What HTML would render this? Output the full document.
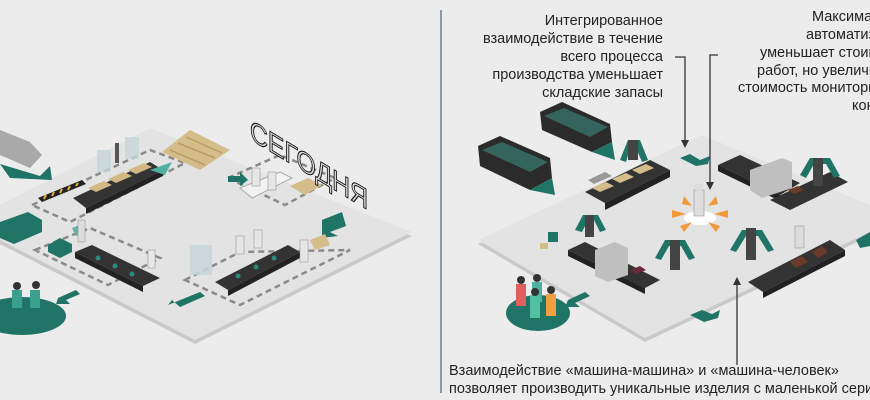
<!DOCTYPE html>
<html><head><meta charset="utf-8"><style>
html,body{margin:0;padding:0;background:#ececec;}
svg{display:block}
text{font-family:"Liberation Sans",sans-serif;}
</style></head><body>
<svg width="870" height="400" viewBox="0 0 870 400" xmlns="http://www.w3.org/2000/svg">
<rect width="870" height="400" fill="#ececec"/>
<!-- LEFT PLATFORM -->
<polygon points="150,132 412,236 195,344 0,244 0,209" fill="#c9c9c9"/>
<polygon points="150,128 412,232 195,340 0,240 0,205" fill="#e3e3e3"/>
<g fill="none" stroke="#8a8a8a" stroke-width="2.5" stroke-dasharray="6,4">
<polygon points="32,205 150,150 185,163 70,222"/>
<polygon points="228,178 280,155 335,178 285,205"/>
<polygon points="35,250 90,228 160,258 108,285"/>
<polygon points="185,280 240,252 350,250 240,305"/>
</g>
<polygon points="0,130 30,142 42,155 30,168 0,155" fill="#a9a9a9"/>
<polygon points="0,164 40,176 50,166 52,180 10,178" fill="#1f7466"/>
<polygon points="38,198 82,180 86,184 42,202" fill="#222"/>
<g stroke="#e0b030" stroke-width="2"><line x1="44" y1="199" x2="46" y2="195"/><line x1="52" y1="196" x2="54" y2="192"/><line x1="60" y1="193" x2="62" y2="189"/><line x1="68" y1="190" x2="70" y2="186"/><line x1="76" y1="186" x2="78" y2="183"/></g>
<polygon points="73,198 150,162 163,170 86,208" fill="#333"/>
<polygon points="86,208 163,170 163,176 86,214" fill="#222"/>
<polygon points="88,188 104,181 112,185 96,192" fill="#d1b884"/>
<polygon points="108,179 124,172 132,176 116,183" fill="#d1b884"/>
<polygon points="128,170 144,163 152,167 136,174" fill="#d1b884"/>
<rect x="97" y="150" width="14" height="22" fill="#c7d5d8" opacity=".8"/>
<rect x="125" y="137" width="14" height="22" fill="#c7d5d8" opacity=".8"/>
<rect x="115" y="143" width="4" height="20" fill="#555"/>
<polygon points="150,170 172,162 165,175" fill="#4fb0a0"/>
<polygon points="162,152 190,130 230,150 200,170" fill="#d4bd8a"/>
<g stroke="#b99d62" stroke-width="1.5"><line x1="170" y1="150" x2="205" y2="165"/><line x1="178" y1="143" x2="215" y2="158"/><line x1="186" y1="137" x2="222" y2="153"/></g>
<polygon points="240,188 280,172 292,178 252,198" fill="#f2f2f2" stroke="#aaa"/>
<rect x="252" y="168" width="8" height="18" fill="#e6e6e6" stroke="#999" stroke-width=".6"/>
<rect x="268" y="172" width="8" height="18" fill="#e6e6e6" stroke="#999" stroke-width=".6"/>
<polygon points="290,186 308,178 322,185 305,195" fill="#d4bd8a"/>
<polygon points="228,176 240,176 240,172 248,180 240,186 240,182 228,182" fill="#1f7466"/>
<polygon points="322,220 342,212 346,226 330,232 338,236 322,238" fill="#1f7466"/>
<polygon points="168,305 200,292 205,296 180,307 172,300" fill="#1f7466"/>
<polygon points="58,298 76,290 80,294 66,300 70,304 56,304" fill="#1f7466"/>
<polygon points="0,222 28,212 42,220 42,232 14,244 0,238" fill="#1f7466"/>
<polygon points="48,245 60,238 72,244 72,252 60,258 48,252" fill="#1f7466"/>
<polygon points="72,228 82,224 86,232 76,236" fill="#5fb3a0"/>
<rect x="78" y="220" width="7" height="22" fill="#ddd" stroke="#999" stroke-width=".6"/>
<polygon points="75,252 92,245 160,278 143,286" fill="#333"/>
<polygon points="75,252 143,286 143,292 75,258" fill="#222"/>
<g fill="#2a8a78"><circle cx="98" cy="258" r="2.5"/><circle cx="115" cy="266" r="2.5"/><circle cx="132" cy="274" r="2.5"/></g>
<rect x="148" y="250" width="7" height="18" fill="#e8e8e8" stroke="#999" stroke-width=".6"/>
<polygon points="215,282 288,245 300,252 228,290" fill="#333"/>
<polygon points="228,290 300,252 300,258 228,296" fill="#222"/>
<g fill="#2a8a78"><circle cx="238" cy="276" r="2.5"/><circle cx="256" cy="267" r="2.5"/><circle cx="274" cy="258" r="2.5"/></g>
<rect x="190" y="245" width="22" height="30" fill="#c7d5d8" opacity=".85"/>
<rect x="236" y="236" width="8" height="18" fill="#e6e6e6" stroke="#999" stroke-width=".6"/>
<rect x="254" y="230" width="8" height="18" fill="#e6e6e6" stroke="#999" stroke-width=".6"/>
<rect x="300" y="240" width="8" height="22" fill="#e6e6e6" stroke="#999" stroke-width=".6"/>
<polygon points="310,240 325,234 330,245 315,250" fill="#d4bd8a"/>
<ellipse cx="22" cy="316" rx="44" ry="19" fill="#1f7466"/>
<rect x="12" y="290" width="10" height="18" fill="#3aa090"/>
<rect x="30" y="290" width="10" height="18" fill="#3aa090"/>
<circle cx="17" cy="286" r="4" fill="#333"/><circle cx="36" cy="285" r="4" fill="#333"/>
<text x="250" y="140" font-size="29" fill="#d8d8d8" stroke="#111" stroke-width="1" textLength="118" lengthAdjust="spacingAndGlyphs" transform="skewY(31) translate(0,-151)">СЕГОДНЯ</text>

<line x1="441" y1="10" x2="441" y2="393" stroke="#8c9aa8" stroke-width="2"/>

<!-- RIGHT PLATFORM -->
<polygon points="702,139 870,209 870,236 645,342 478,244" fill="#c9c9c9"/>
<polygon points="702,135 870,205 870,232 645,338 478,240" fill="#e3e3e3"/>
<polygon points="478,146 500,136 550,158 552,178 530,190 480,166" fill="#2b2b2b"/>
<polygon points="482,150 502,142 548,162 530,172" fill="#3c8b7d" opacity=".6"/>
<polygon points="530,190 552,178 555,195" fill="#1f7466"/>
<polygon points="540,112 562,102 610,124 612,142 592,152 542,130" fill="#2b2b2b"/>
<polygon points="544,116 564,108 608,127 590,137" fill="#3c8b7d" opacity=".6"/>
<polygon points="592,152 612,142 615,160" fill="#1f7466"/>
<polygon points="585,192 650,160 670,170 605,203" fill="#333"/>
<polygon points="605,203 670,170 670,177 605,210" fill="#222"/>
<polygon points="592,188 606,182 614,186 600,192" fill="#d4bd8a"/>
<polygon points="612,179 626,173 634,177 620,183" fill="#d4bd8a"/>
<polygon points="632,170 646,164 654,168 640,174" fill="#d4bd8a"/>
<polygon points="588,180 605,172 612,176 594,184" fill="#999"/>
<g fill="#1f7466"><polygon points="620,160 628,140 640,140 648,160 642,162 636,148 630,148 626,162"/></g>
<rect x="628" y="140" width="10" height="20" fill="#444"/>
<polygon points="718,165 740,155 800,183 780,195" fill="#333"/>
<polygon points="718,165 780,195 780,201 718,171" fill="#222"/>
<polygon points="750,170 782,158 792,162 792,188 762,198 750,190" fill="#bfbfbf"/>
<polygon points="770,200 830,172 848,182 790,210" fill="#333"/>
<polygon points="788,190 798,186 804,190 794,194" fill="#6a3a2a"/>
<g fill="#1f7466"><polygon points="800,175 810,158 830,158 840,176 834,178 826,164 814,164 806,178"/></g>
<rect x="813" y="158" width="10" height="28" fill="#444"/>
<ellipse cx="700" cy="218" rx="16" ry="7" fill="#fff"/>
<g fill="#f29a3a"><polygon points="672,210 686,214 672,218"/><polygon points="728,210 714,214 728,218"/><polygon points="684,196 692,206 682,204"/><polygon points="716,196 708,206 718,204"/><polygon points="684,232 692,222 680,226"/><polygon points="716,232 708,222 720,226"/></g>
<rect x="694" y="190" width="10" height="26" fill="#ddd" stroke="#999" stroke-width=".6"/>
<circle cx="699" cy="187" r="4" fill="#ddd"/>
<polygon points="568,250 585,242 660,280 645,288" fill="#333"/>
<polygon points="568,250 645,288 645,294 568,256" fill="#222"/>
<polygon points="595,250 615,242 628,248 628,275 608,282 595,276" fill="#bfbfbf"/>
<polygon points="630,270 640,266 646,270 636,274" fill="#6a2a3a"/>
<g fill="#1f7466"><polygon points="575,230 583,215 598,215 606,230 600,232 594,220 588,220 582,232"/></g>
<rect x="585" y="215" width="9" height="22" fill="#444"/>
<g fill="#1f7466"><polygon points="655,258 665,240 685,240 695,258 689,260 681,246 669,246 661,260"/></g>
<rect x="670" y="240" width="10" height="30" fill="#444"/>
<rect x="548" y="232" width="10" height="10" fill="#1f7466"/>
<rect x="540" y="243" width="8" height="6" fill="#d4bd8a"/>
<polygon points="748,282 830,240 845,250 763,292" fill="#333"/>
<polygon points="763,292 845,250 845,256 763,298" fill="#222"/>
<polygon points="790,262 802,256 808,262 796,268" fill="#6a3a2a"/>
<polygon points="812,252 822,246 828,252 818,258" fill="#6a3a2a"/>
<g fill="#1f7466"><polygon points="730,250 742,230 762,230 774,250 768,252 758,236 746,236 736,252"/></g>
<rect x="746" y="228" width="10" height="32" fill="#444"/>
<rect x="795" y="226" width="9" height="22" fill="#ddd" stroke="#999" stroke-width=".6"/>
<polygon points="680,158 690,154 700,160 710,156 708,164 696,166" fill="#1f7466"/>
<polygon points="690,315 702,310 712,314 720,310 718,318 704,322" fill="#1f7466"/>
<polygon points="856,240 870,232 870,246 860,248" fill="#1f7466"/>
<polygon points="568,300 585,292 590,296 575,303 580,307 565,307" fill="#1f7466"/>
<ellipse cx="538" cy="313" rx="32" ry="18" fill="#1f7466"/>
<rect x="516" y="284" width="10" height="22" fill="#e06060"/>
<rect x="532" y="282" width="10" height="20" fill="#50b0a0"/>
<rect x="530" y="296" width="10" height="22" fill="#50c0a0"/>
<rect x="546" y="294" width="10" height="22" fill="#f0a040"/>
<circle cx="521" cy="280" r="4" fill="#333"/><circle cx="537" cy="278" r="4" fill="#333"/><circle cx="535" cy="292" r="4" fill="#333"/><circle cx="551" cy="290" r="4" fill="#333"/>

<g stroke="#333" stroke-width="1.3" fill="none">
<polyline points="675,57 685,57 685,140"/>
<polyline points="718,55 710,55 710,182"/>
<line x1="737" y1="365" x2="737" y2="285"/>
</g>
<g fill="#333">
<polygon points="681,140 689,140 685,148"/>
<polygon points="706,182 714,182 710,190"/>
<polygon points="733,285 741,285 737,277"/>
</g>

<g font-size="14.5" fill="#222" text-anchor="end">
<text x="663" y="25">Интегрированное</text>
<text x="663" y="43">взаимодействие  в течение</text>
<text x="663" y="61">всего процесса</text>
<text x="663" y="79">производства уменьшает</text>
<text x="663" y="97">складские запасы</text>
</g>
<g font-size="14.5" fill="#222">
<text x="812" y="21">Максимальная</text>
<text x="806" y="39">автоматизация</text>
<text x="760" y="57">уменьшает стоимость</text>
<text x="757" y="75">работ, но увеличивает</text>
<text x="738" y="92">стоимость мониторинга и</text>
<text x="852" y="110">контроля</text>
<text x="449" y="375">Взаимодействие «машина-машина» и «машина-человек»</text>
<text x="449" y="393">позволяет производить уникальные изделия с маленькой серией</text>
</g>
</svg>
</body></html>
